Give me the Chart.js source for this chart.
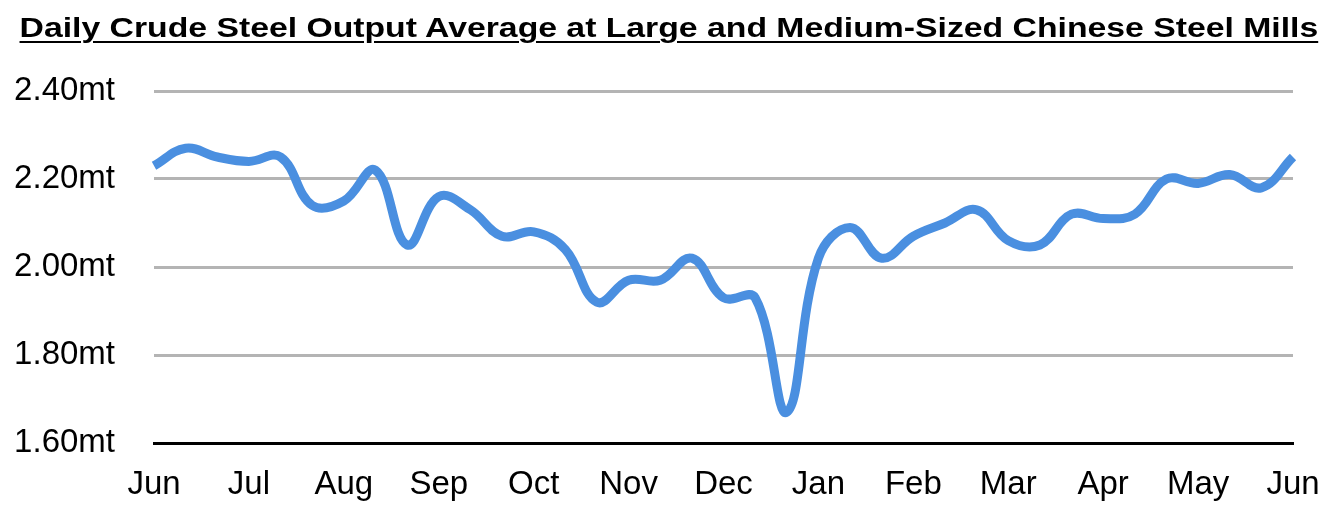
<!DOCTYPE html>
<html>
<head>
<meta charset="utf-8">
<script src="https://cdn.jsdelivr.net/npm/chart.js@4/dist/chart.umd.min.js"></script>
<style>
  body { margin: 0; background: #fff; }
  #wrap { position: relative; width: 1337px; height: 513px; }
  #title {
    position: absolute; left: 0; top: 12px; width: 1337px; text-align: center;
  }
  #title span {
    display: inline-block; transform: scaleX(1.205);
    font-family: "Liberation Sans", Arial, Helvetica, sans-serif;
    font-weight: bold; font-size: 28px; color: #000; line-height: 32px;
    text-decoration: underline; text-decoration-thickness: 2px; text-underline-offset: 4px;
  }
</style>
</head>
<body>
<div id="wrap">
  <div id="title"><span>Daily Crude Steel Output Average at Large and Medium-Sized Chinese Steel Mills</span></div>
  <canvas id="chart" width="1337" height="513"></canvas>
</div>
<script>
// month tick labels, one every third reading
const months = ['Jun', 'Jul', 'Aug', 'Sep', 'Oct', 'Nov', 'Dec', 'Jan', 'Feb', 'Mar', 'Apr', 'May', 'Jun']
const pointsPerMonth = 3

// daily average output, million tonnes (roughly every 10 days)
const output = [
    2.23, 2.27, 2.25, 2.24, 2.25, 2.14, 2.15, 2.22, 2.05, 2.16,
    2.13, 2.07, 2.08, 2.04, 1.92, 1.97, 1.97, 2.02, 1.93, 1.93,
    1.67, 2.02, 2.09, 2.02, 2.07, 2.10, 2.13, 2.06, 2.05, 2.12,
    2.11, 2.12, 2.20, 2.19, 2.21, 2.18, 2.25
]

const yMin = 1.6
const yMax = 2.4
const yStep = 0.2

let labels = []
for (let i = 0; i < output.length; i++) {
    labels.push(i % pointsPerMonth == 0 ? months[i / pointsPerMonth] : '')
}

const font = { family: '"Liberation Sans", Arial, Helvetica, sans-serif', size: 33 }

const ctx = document.getElementById('chart').getContext('2d')
const chart = new Chart(ctx, {
    type: 'line',
    data: {
        labels: labels,
        datasets: [{
            label: 'Daily crude steel output',
            data: output,
            borderColor: '#4a8fe0',
            borderWidth: 9,
            pointRadius: 0,
            tension: 0.4,
            fill: false,
            clip: false
        }]
    },
    options: {
        responsive: false,
        animation: false,
        layout: { padding: { top: 91, left: 13, right: 44, bottom: 12 } },
        plugins: {
            legend: { display: false },
            tooltip: { enabled: false }
        },
        scales: {
            x: {
                offset: false,
                grid: { display: false },
                border: { color: '#000', width: 3 },
                ticks: {
                    color: '#000', font: font, autoSkip: false, maxRotation: 0, padding: 14
                },
                afterFit: (scale) => { scale.height = 58 }
            },
            y: {
                min: yMin,
                max: yMax,
                border: { display: false },
                grid: { color: '#b4b4b4', lineWidth: 3, drawTicks: false },
                ticks: {
                    stepSize: yStep,
                    color: '#000',
                    font: font,
                    padding: 39,
                    callback: (v) => v.toFixed(2) + 'mt'
                },
                afterFit: (scale) => { scale.width = 141 }
            }
        }
    }
})
</script>
</body>
</html>
